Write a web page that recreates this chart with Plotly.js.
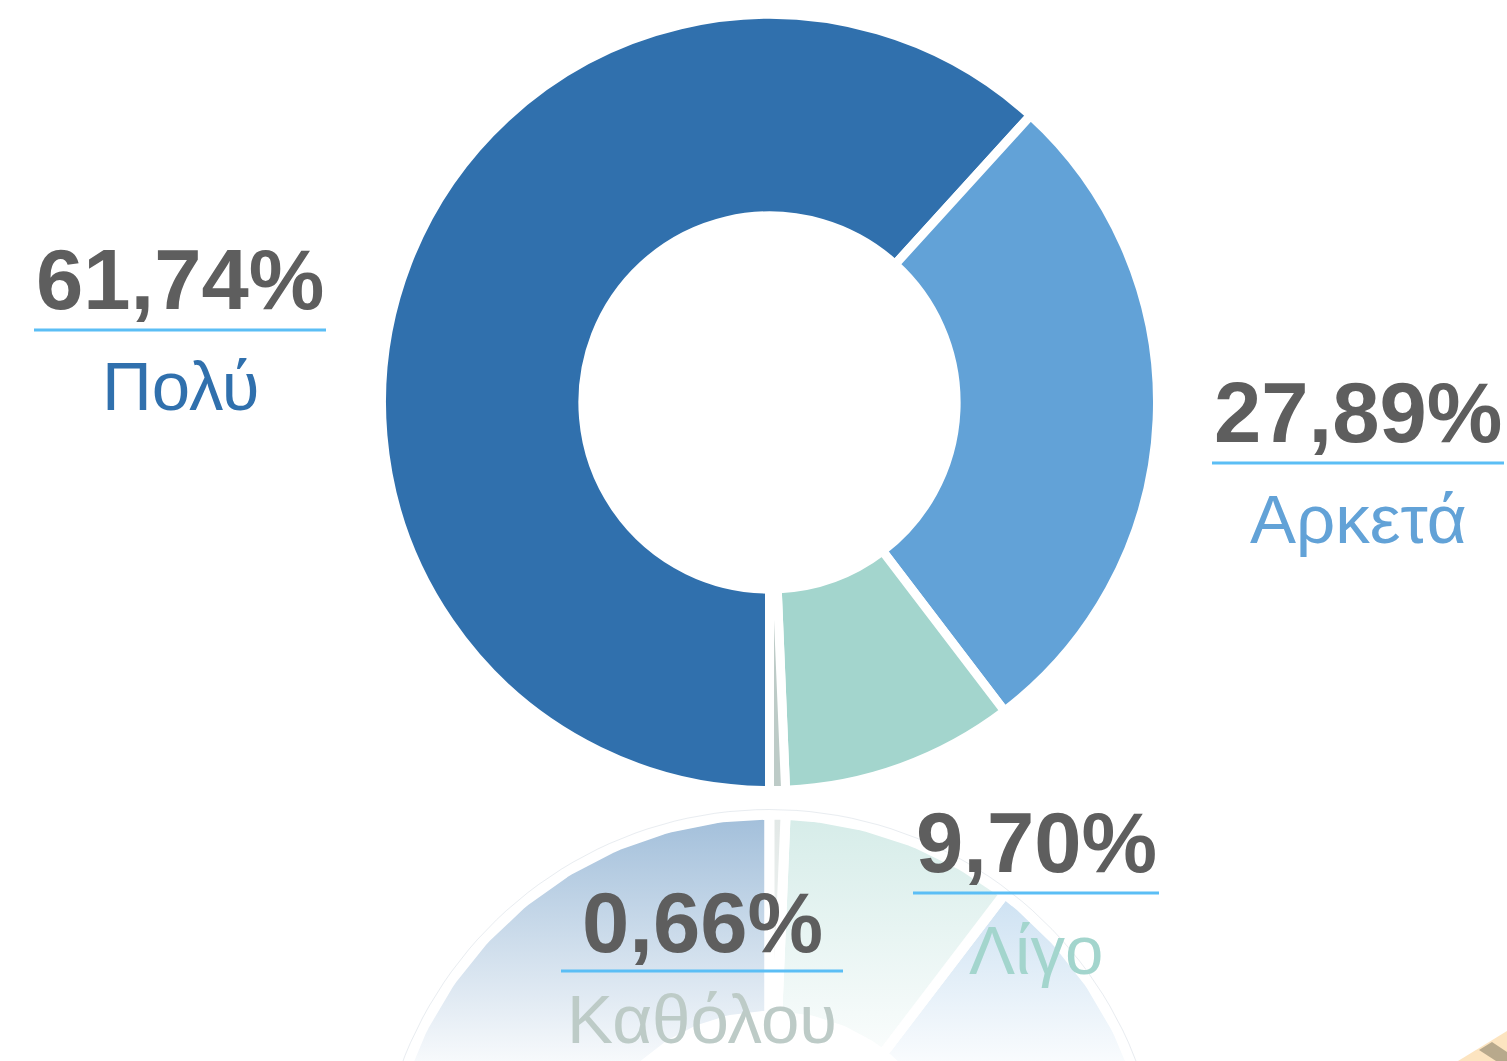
<!DOCTYPE html>
<html>
<head>
<meta charset="utf-8">
<script src="https://cdn.plot.ly/plotly-3.0.1.min.js"></script>
<style>
  html, body { margin: 0; padding: 0; background: #fff; overflow: hidden; }
  #chart { width: 1507px; height: 1061px; }
</style>
</head>
<body>
<div id="chart"></div>
<script>
// answers and their shares (%)
var categories = ['Πολύ', 'Αρκετά', 'Λίγο', 'Καθόλου'];
var shares = [61.74, 27.89, 9.70, 0.66];
var colors = ['#3070AD', '#62A2D7', '#A3D5CD', '#BDCBC7'];
var rgb = [[48, 112, 173], [98, 162, 215], [163, 213, 205], [189, 203, 199]];

// where each label sits (pixels) - center x, % text y, line y, name y
var labelX = [180, 1358, 1036, 702];
var pctY = [279, 412, 842, 922];
var lineY = [330, 463, 893, 971];
var lineHalf = [146, 146, 123, 141];
var nameY = [386, 519, 950, 1019];

var W = 1507, H = 1061;
var cx = 769.5, cy = 402.5, R = 388, hole = 0.481;
var cyRefl = 1202.5; // center of the mirrored donut

var pctText = shares.map(function (v) { return v.toFixed(2).replace('.', ',') + '%'; });

var donut = {
  type: 'pie',
  values: shares,
  labels: categories,
  sort: false,
  direction: 'clockwise',
  rotation: 180,
  hole: hole,
  marker: { colors: colors, line: { color: '#ffffff', width: 9 } },
  textinfo: 'none',
  hoverinfo: 'label+percent',
  showlegend: false,
  domain: {
    x: [(cx - R) / W, (cx + R) / W],
    y: [(H - cy - R) / H, (H - cy + R) / H]
  }
};

// mirrored, fading copy of the donut under it
var total = shares.reduce(function (a, b) { return a + b; }, 0);
var reflection = [];
var start = 180;
shares.forEach(function (v, i) {
  var span = v / total * 360;
  var xs = [], ys = [];
  var n = Math.max(4, Math.ceil(span));
  for (var k = 0; k <= n; k++) {
    var a = (start + span * k / n) * Math.PI / 180;
    xs.push(cx + R * Math.sin(a));
    ys.push(cyRefl + R * Math.cos(a));
  }
  for (var k2 = n; k2 >= 0; k2--) {
    var b = (start + span * k2 / n) * Math.PI / 180;
    xs.push(cx + R * hole * Math.sin(b));
    ys.push(cyRefl + R * hole * Math.cos(b));
  }
  xs.push(xs[0]); ys.push(ys[0]);
  var c = rgb[i].join(',');
  reflection.push({
    type: 'scatter',
    x: xs, y: ys,
    mode: 'lines',
    fill: 'toself',
    fillcolor: 'rgba(' + c + ',0.3)',
    fillgradient: {
      type: 'vertical',
      start: 815, stop: H,
      colorscale: [[0, 'rgba(' + c + ',0.45)'], [1, 'rgba(' + c + ',0.04)']]
    },
    line: { color: '#ffffff', width: 10 },
    hoverinfo: 'skip',
    showlegend: false
  });
  start += span;
});

// faint rim of the reflection
var rimX = [], rimY = [];
for (var d = 0; d <= 360; d += 2) {
  var t = d * Math.PI / 180;
  rimX.push(cx + (R + 5) * Math.sin(t));
  rimY.push(cyRefl + (R + 5) * Math.cos(t));
}
reflection.push({
  type: 'scatter', x: rimX, y: rimY, mode: 'lines',
  line: { color: 'rgba(210,218,226,0.5)', width: 1 },
  hoverinfo: 'skip', showlegend: false
});

var font = 'Liberation Sans, Arial, Helvetica, sans-serif';
var annotations = [];
var shapes = [];
categories.forEach(function (name, i) {
  annotations.push({
    xref: 'x', yref: 'y', x: labelX[i], y: pctY[i],
    text: '<b>' + pctText[i] + '</b>', showarrow: false,
    xanchor: 'center', yanchor: 'middle',
    font: { family: font, size: 85, color: '#5E5E5E' }
  });
  annotations.push({
    xref: 'x', yref: 'y', x: labelX[i], y: nameY[i],
    text: name, showarrow: false,
    xanchor: 'center', yanchor: 'middle',
    font: { family: font, size: 69, color: colors[i] }
  });
  shapes.push({
    type: 'line', xref: 'x', yref: 'y', layer: 'above',
    x0: labelX[i] - lineHalf[i], x1: labelX[i] + lineHalf[i],
    y0: lineY[i], y1: lineY[i],
    line: { color: '#5BBEF5', width: 3 }
  });
});

// small corner decoration
shapes.push({
  type: 'path', xref: 'x', yref: 'y', layer: 'above',
  path: 'M1458,1061 L1507,1031 L1507,1061 Z',
  fillcolor: '#FCE4C0', line: { width: 0 }
});
shapes.push({
  type: 'path', xref: 'x', yref: 'y', layer: 'above',
  path: 'M1479,1050 L1492,1042 L1507,1052 L1507,1061 L1496,1061 Z',
  fillcolor: '#B8A98C', line: { width: 0 }
});

var layout = {
  width: W,
  height: H,
  margin: { l: 0, r: 0, t: 0, b: 0 },
  paper_bgcolor: '#fff',
  plot_bgcolor: '#fff',
  showlegend: false,
  xaxis: { range: [0, W], visible: false, fixedrange: true },
  yaxis: { range: [H, 0], visible: false, fixedrange: true },
  annotations: annotations,
  shapes: shapes
};

Plotly.newPlot('chart', reflection.concat([donut]), layout, { displayModeBar: false, staticPlot: true });
</script>
</body>
</html>
